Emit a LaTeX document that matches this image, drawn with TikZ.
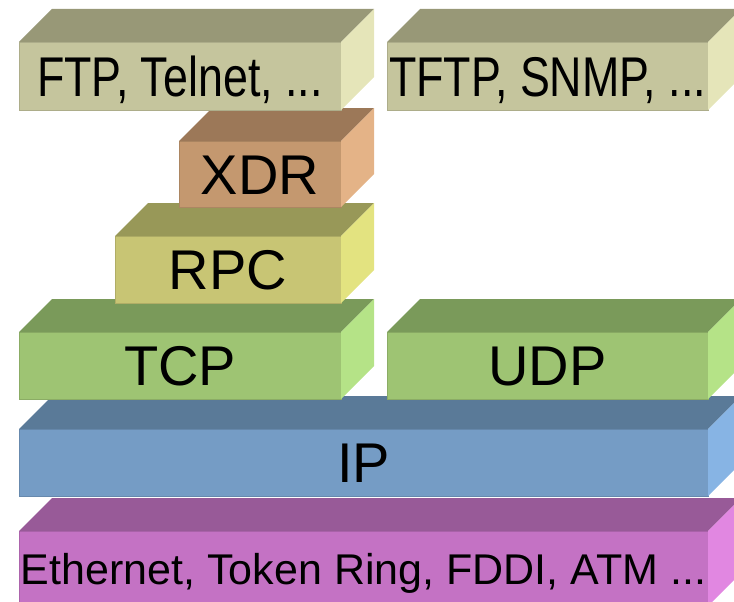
\documentclass[tikz,border=0pt]{standalone}
\usepackage{fontspec}
\setmainfont{Liberation Sans}
\usepackage{graphicx}
\definecolor{ftpF}{HTML}{C5C59D}\definecolor{ftpT}{HTML}{989877}\definecolor{ftpS}{HTML}{E5E5B9}
\definecolor{xdrF}{HTML}{C4986F}\definecolor{xdrT}{HTML}{9C7858}\definecolor{xdrS}{HTML}{E4B387}
\definecolor{rpcF}{HTML}{C8C574}\definecolor{rpcT}{HTML}{989858}\definecolor{rpcS}{HTML}{E3E380}
\definecolor{tcpF}{HTML}{9EC473}\definecolor{tcpT}{HTML}{7A9A5A}\definecolor{tcpS}{HTML}{B5E387}
\definecolor{ipF}{HTML}{759CC5}\definecolor{ipT}{HTML}{5A7A98}\definecolor{ipS}{HTML}{87B4E4}
\definecolor{ethF}{HTML}{C472C4}\definecolor{ethT}{HTML}{985A98}\definecolor{ethS}{HTML}{E187E1}
\newcommand\slabsides[2]{%
  \fill[#2T] (#1.north west) -- ++(33,-33) -- ([shift={(33,-33)}]#1.north east) -- (#1.north east) -- cycle;
  \fill[#2S] (#1.north east) -- ++(33,-33) -- ([shift={(33,-33)}]#1.south east) -- (#1.south east) -- cycle;
}
\begin{document}
\begin{tikzpicture}[x=1pt,y=-1pt,
  slab/.style={rectangle, inner sep=0pt, outer sep=0pt, fill=#1F, draw=#1F!88!black, line width=0.6pt,
    font=\fontsize{56}{60}\selectfont, text height=40pt, text depth=0pt, text=black}]
\useasboundingbox (0,0) rectangle (734,602);
\clip (0,0) rectangle (734,602);
% Ethernet
\node[slab=eth, minimum width=689pt, minimum height=75pt, font=\fontsize{43}{48}\selectfont, text height=31pt] (eth) at (363.5,568.5) {Ethernet, Token Ring, FDDI, ATM ...};
\slabsides{eth}{eth}
% IP
\node[slab=ip, minimum width=689pt, minimum height=67pt] (ip) at (363.5,462.5) {IP};
\slabsides{ip}{ip}
% TCP / UDP
\node[slab=tcp, minimum width=322pt, minimum height=67pt] (tcp) at (180,365.5) {TCP};
\slabsides{tcp}{tcp}
\node[slab=tcp, minimum width=321pt, minimum height=67pt] (udp) at (547.5,365.5) {UDP};
\slabsides{udp}{tcp}
% RPC
\node[slab=rpc, minimum width=226pt, minimum height=67pt] (rpc) at (228,269.5) {RPC};
\slabsides{rpc}{rpc}
% XDR
\node[slab=xdr, minimum width=162pt, minimum height=66pt] (xdr) at (260,174) {XDR};
\slabsides{xdr}{xdr}
% FTP / TFTP
\node[slab=ftp, minimum width=322pt, minimum height=68pt] (ftp) at (180,76) {\scalebox{0.8}[1]{FTP, Telnet, ...}};
\slabsides{ftp}{ftp}
\node[slab=ftp, minimum width=321pt, minimum height=68pt] (tftp) at (547.5,76) {\scalebox{0.8}[1]{TFTP, SNMP, ...}};
\slabsides{tftp}{ftp}
\end{tikzpicture}
\end{document}
